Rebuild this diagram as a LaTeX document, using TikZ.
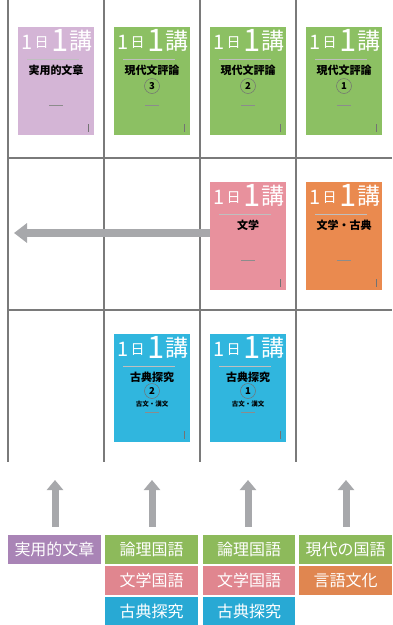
\documentclass[tikz,border=0pt]{standalone}
\usepackage{fontspec}
\newfontfamily\jp{Noto Sans CJK JP}
\usetikzlibrary{arrows.meta}

\definecolor{gridgray}{HTML}{7A7A7A}
\definecolor{arrowgray}{HTML}{A7A8AB}
\definecolor{covlav}{HTML}{D4B5D6}
\definecolor{covgreen}{HTML}{8CC063}
\definecolor{covpink}{HTML}{E8919D}
\definecolor{covorange}{HTML}{EA8A4F}
\definecolor{covcyan}{HTML}{30B6DE}
\definecolor{labpurple}{HTML}{A984B6}
\definecolor{labgreen}{HTML}{8DBA5B}
\definecolor{labpink}{HTML}{E0868F}
\definecolor{labcyan}{HTML}{28A9D4}
\definecolor{laborange}{HTML}{E08650}

% one book cover: name, x, y, colour, title, extra lines
\newcommand\bookcover[6]{%
  \begin{scope}[shift={(#2,#3)}]
    \node[cover,fill=#4] (#1) at (38,54) {};
    \node[covtxt,font=\jp\fontsize{20}{20}\selectfont] (#1-n1) at (9.5,15) {1};
    \node[covtxt,font=\jp\fontsize{14}{14}\selectfont] (#1-day) at (23.5,16) {日};
    \node[covtxt,font=\jp\fontsize{31}{31}\selectfont] (#1-n2) at (42,13) {1};
    \node[covtxt,font=\jp\fontsize{23}{23}\selectfont] (#1-ko) at (62.5,14) {講};
    \draw[black!25,line width=0.4pt] (9,32) -- (61,32);
    \node[font=\jp\bfseries\fontsize{11}{11}\selectfont] (#1-title) at (38,43) {#5};
    #6
    \fill[black!45] (31,77.6) rectangle (45,78.4);
    \fill[black!55] (69.6,97) rectangle (70.9,105);
  \end{scope}}

\begin{document}
\begin{tikzpicture}[x=1pt,y=-1pt,
    cover/.style={minimum width=76pt,minimum height=108pt,inner sep=0pt},
    covtxt/.style={text=white,inner sep=0pt},
    num/.style={circle,draw=black!55,line width=0.5pt,minimum size=15pt,inner sep=0pt,
      font=\jp\bfseries\fontsize{9.5}{9.5}\selectfont},
    subj/.style={text=white,minimum width=93pt,minimum height=29pt,inner sep=0pt,
      font=\jp\fontsize{16}{16}\selectfont},
    leftarrow/.style={draw=arrowgray,line width=8pt,-{Triangle[width=19pt,length=13pt]}},
    uparrow/.style={draw=arrowgray,line width=7pt,-{Triangle[width=16pt,length=10pt]}}]

  \useasboundingbox (0,0) rectangle (392,625);

  % grid
  \begin{scope}[gridgray,line width=1.4pt]
    \draw (8,0) -- (8,462);
    \draw (104,0) -- (104,462);
    \draw (200,0) -- (200,462);
    \draw (296,0) -- (296,462);
    \draw (8,158) -- (392,158);
    \draw (8,310) -- (392,310);
  \end{scope}

  % books
  \bookcover{jitsu}{18}{27}{covlav}{実用的文章}{}
  \bookcover{gen3}{114}{27}{covgreen}{現代文評論}{\node[num] (gen3-num) at (38,59) {3};}
  \bookcover{gen2}{210}{27}{covgreen}{現代文評論}{\node[num] (gen2-num) at (38,59) {2};}
  \bookcover{gen1}{306}{27}{covgreen}{現代文評論}{\node[num] (gen1-num) at (38,59) {1};}
  \bookcover{bun}{210}{182}{covpink}{文学}{}
  \bookcover{bunko}{306}{182}{covorange}{文学・古典}{}
  \bookcover{koten2}{114}{334}{covcyan}{古典探究}{\node[num] (koten2-num) at (38,57) {2};
    \node[font=\jp\bfseries\fontsize{6.5}{6.5}\selectfont] (koten2-sub) at (38,70) {古文・漢文};}
  \bookcover{koten1}{210}{334}{covcyan}{古典探究}{\node[num] (koten1-num) at (38,57) {1};
    \node[font=\jp\bfseries\fontsize{6.5}{6.5}\selectfont] (koten1-sub) at (38,70) {古文・漢文};}

  \coordinate (back) at (14,233);
  \draw[leftarrow] ([yshift=3pt]bun.west) -- (back);

  % subjects
  \node[subj,fill=labpurple] (s1) at (54.5,549.5) {実用的文章};
  \node[subj,fill=labgreen] (s2a) at (151.5,549.5) {論理国語};
  \node[subj,fill=labpink] (s2b) at (151.5,580.5) {文学国語};
  \node[subj,fill=labcyan] (s2c) at (151.5,611) {古典探究};
  \node[subj,fill=labgreen,minimum width=92pt] (s3a) at (249,549.5) {論理国語};
  \node[subj,fill=labpink,minimum width=92pt] (s3b) at (249,580.5) {文学国語};
  \node[subj,fill=labcyan,minimum width=92pt] (s3c) at (249,611) {古典探究};
  \node[subj,fill=labgreen] (s4a) at (345.5,549.5) {現代の国語};
  \node[subj,fill=laborange] (s4b) at (345.5,580.5) {言語文化};

  \coordinate (t1) at (55,480);
  \coordinate (t2) at (152,480);
  \coordinate (t3) at (248,480);
  \coordinate (t4) at (346,480);
  \draw[uparrow] ([yshift=8pt]s1.north -| t1) -- (t1);
  \draw[uparrow] ([yshift=8pt]s2a.north -| t2) -- (t2);
  \draw[uparrow] ([yshift=8pt]s3a.north -| t3) -- (t3);
  \draw[uparrow] ([yshift=8pt]s4a.north -| t4) -- (t4);

\end{tikzpicture}
\end{document}
